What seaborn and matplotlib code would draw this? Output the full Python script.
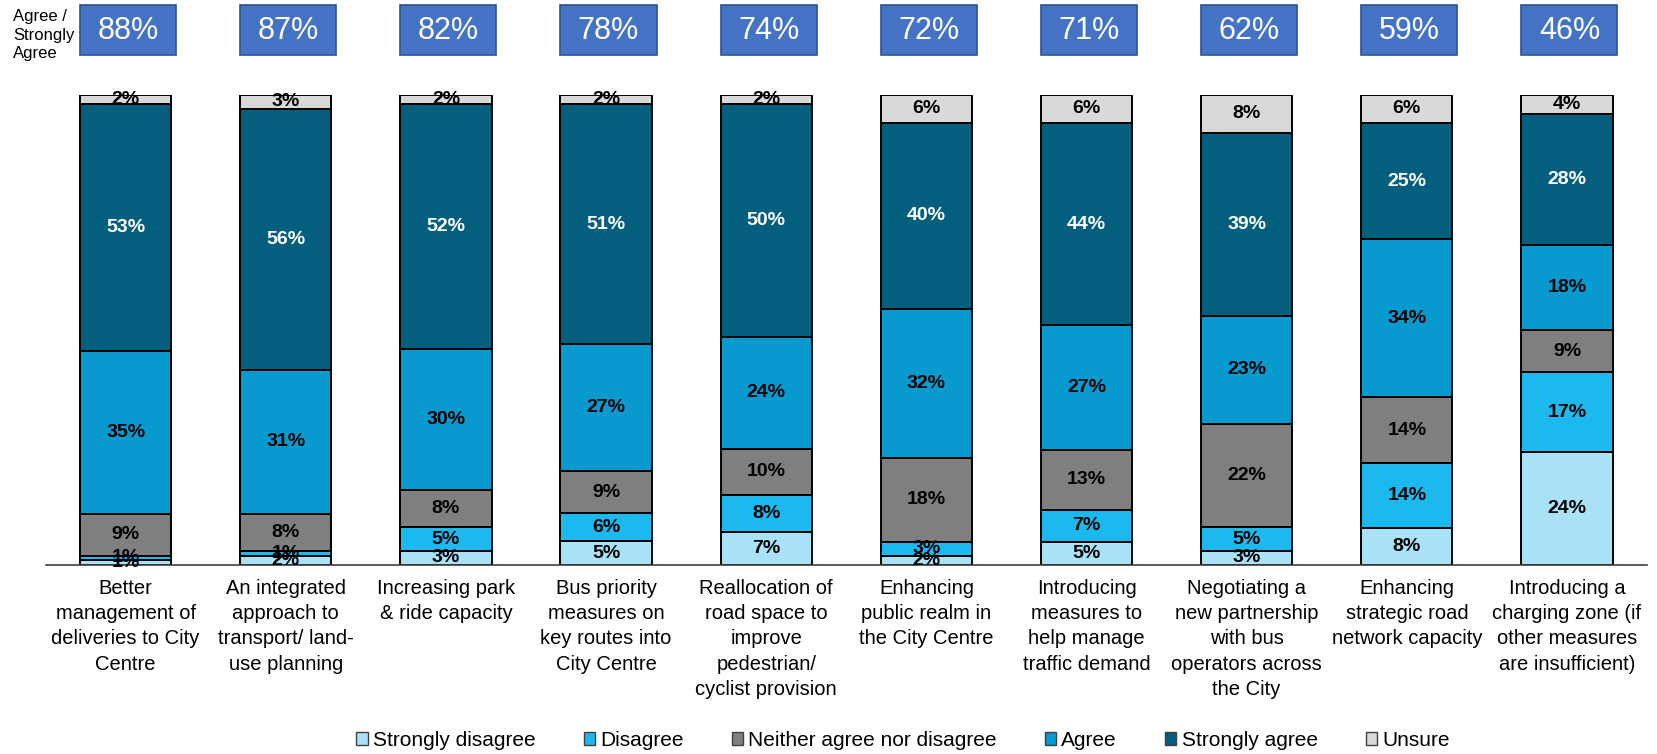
import numpy as np
import pandas as pd
import matplotlib
matplotlib.use("Agg")
import matplotlib.pyplot as plt
import matplotlib.transforms as mtransforms
from matplotlib.patches import Rectangle, Patch
import seaborn as sns

# --- data ---
categories = [
    "Better\nmanagement of\ndeliveries to City\nCentre",
    "An integrated\napproach to\ntransport/ land-\nuse planning",
    "Increasing park\n& ride capacity",
    "Bus priority\nmeasures on\nkey routes into\nCity Centre",
    "Reallocation of\nroad space to\nimprove\npedestrian/\ncyclist provision",
    "Enhancing\npublic realm in\nthe City Centre",
    "Introducing\nmeasures to\nhelp manage\ntraffic demand",
    "Negotiating a\nnew partnership\nwith bus\noperators across\nthe City",
    "Enhancing\nstrategic road\nnetwork capacity",
    "Introducing a\ncharging zone (if\nother measures\nare insufficient)",
]
strongly_disagree = [1, 2, 3, 5, 7, 2, 5, 3, 8, 24]
disagree = [1, 1, 5, 6, 8, 3, 7, 5, 14, 17]
neither = [9, 8, 8, 9, 10, 18, 13, 22, 14, 9]
agree = [35, 31, 30, 27, 24, 32, 27, 23, 34, 18]
strongly_agree = [53, 56, 52, 51, 50, 40, 44, 39, 25, 28]
unsure = [2, 3, 2, 2, 2, 6, 6, 8, 6, 4]
agree_total = [88, 87, 82, 78, 74, 72, 71, 62, 59, 46]

series_names = ["Strongly disagree", "Disagree", "Neither agree nor disagree",
                "Agree", "Strongly agree", "Unsure"]
series_values = [strongly_disagree, disagree, neither, agree, strongly_agree, unsure]
colors = ["#a9e2f7", "#1cb9ef", "#7f7f7f", "#0899cf", "#035f7d", "#d9d9d9"]
text_colors = ["black", "black", "black", "black", "white", "black"]

plt.rcParams['font.family'] = ['Liberation Sans', 'DejaVu Sans']

fig = plt.figure(figsize=(16.57, 7.54), dpi=100)
ax = fig.add_axes([0.0275, 0.2507, 0.9665, 0.6233])

vals = np.array(series_values, dtype=float)
totals = vals.sum(axis=0)
heights = vals / totals * 100  # 100% stacked
x = np.arange(len(categories))
bottoms = np.zeros(len(categories))

for name, h, col in zip(series_names, heights, colors):
    sns.barplot(x=x, y=h, bottom=bottoms.copy(), color=col, width=0.57, saturation=1,
                edgecolor="black", linewidth=1.4, ax=ax, native_scale=False)
    bottoms += h

# segment labels
bottoms = np.zeros(len(categories))
for raw, h, tc in zip(vals, heights, text_colors):
    for i in range(len(categories)):
        ax.text(i, bottoms[i] + h[i] / 2, f"{int(raw[i])}%", ha="center", va="center",
                fontsize=14, fontweight="bold", color=tc)
    bottoms += h

ax.set_xlim(-0.5, 9.5)
ax.set_ylim(0, 100)
ax.set_xlabel("")
ax.set_ylabel("")
ax.set_yticks([])
ax.set_xticks(x)
ax.set_xticklabels(categories, fontsize=14.5, va="top", linespacing=1.42)
ax.tick_params(axis="x", length=0, pad=10)
for s in ["top", "right", "left"]:
    ax.spines[s].set_visible(False)
ax.spines["bottom"].set_color("#404040")
ax.spines["bottom"].set_linewidth(1.2)

# agree / strongly agree boxes
trans = mtransforms.blended_transform_factory(ax.transData, ax.transAxes)
for i, v in enumerate(agree_total):
    ax.add_patch(Rectangle((i - 0.285, 1.085), 0.6, 0.106, transform=trans,
                           facecolor="#4472c4", edgecolor="#2f528f", linewidth=1.2,
                           clip_on=False))
    ax.text(i + 0.015, 1.136, f"{v}%", transform=trans, ha="center", va="center",
            fontsize=22, color="white", clip_on=False)

fig.text(0.008, 0.988, "Agree /\nStrongly\nAgree", ha="left", va="top",
         fontsize=12, linespacing=1.3)

handles = [Patch(facecolor=c, edgecolor="#404040", linewidth=1) for c in colors]
fig.legend(handles, series_names, loc="center", bbox_to_anchor=(0.545, 0.018),
           ncol=6, frameon=False, handlelength=0.55, handleheight=0.55,
           handletextpad=0.25, columnspacing=2.3, prop={"size": 15})

fig.savefig("out.png", dpi=100)
